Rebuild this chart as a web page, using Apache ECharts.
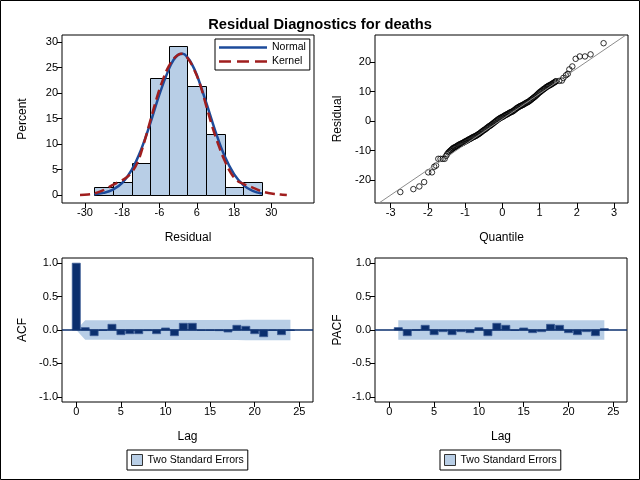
<!DOCTYPE html>
<html><head><meta charset="utf-8">
<script src="https://cdn.jsdelivr.net/npm/echarts@6/dist/echarts.min.js"></script>
<style>html,body{margin:0;padding:0;background:#fff}#c{width:640px;height:480px}</style>
</head><body><div id="c"></div><script>
// ---------- Histogram ----------
const histBinStart = [-27, -21, -15, -9, -3, 3, 9, 15, 21];
const histBinEnd   = [-21, -15, -9, -3, 3, 9, 15, 21, 27];
const histPercent  = [1.6, 2.5, 6.2, 22.9, 29.3, 21.4, 11.9, 1.6, 2.5];
const histXTicks = [-30, -18, -6, 6, 18, 30];
const histYTicks = [0, 5, 10, 15, 20, 25, 30];
const normalX = [-27, -24, -21, -18, -15, -12, -9, -6, -3, -1.5, 0, 1.5, 3, 4.5, 6, 9, 12, 15, 18, 21, 24, 27];
const normalY = [0.14, 0.41, 1.05, 2.4, 4.9, 8.8, 14.0, 19.8, 24.7, 26.5, 27.5, 27.7, 27.0, 25.6, 23.6, 18.2, 12.5, 7.6, 4.1, 1.95, 0.83, 0.31];
const kernelX = [-31.6, -29, -27, -25, -23, -21, -19, -17, -15, -13, -11, -9, -7, -5, -3, -1, 1, 3, 5, 7, 9, 11, 13, 15, 17, 19, 21, 23, 25, 27, 29, 31, 33, 35];
const kernelY = [0.0, 0.1, 0.3, 0.7, 1.3, 2.0, 2.6, 3.3, 4.4, 6.5, 10.2, 14.5, 18.8, 22.5, 25.3, 27.0, 27.7, 26.9, 24.8, 21.8, 17.6, 13.4, 9.8, 6.7, 4.3, 2.8, 2.2, 1.7, 1.2, 0.7, 0.4, 0.2, 0.1, 0.0];

// ---------- Q-Q plot ----------
const qqQuantile = [-2.74, -2.39, -2.23, -2.10, -1.99, -1.89, -1.83, -1.78, -1.72, -1.66, -1.60, -1.55, -1.51, -1.48,
  -1.450, -1.425, -1.400, -1.375, -1.350, -1.325, -1.300, -1.275, -1.250, -1.225, -1.200, -1.175, -1.150, -1.125, -1.100, -1.075,
  -1.050, -1.025, -1.000, -0.975, -0.950, -0.925, -0.900, -0.875, -0.850, -0.825, -0.800, -0.775, -0.750, -0.725, -0.700, -0.675,
  -0.650, -0.625, -0.600, -0.575, -0.550, -0.525, -0.500, -0.475, -0.450, -0.425, -0.400, -0.375, -0.350, -0.325, -0.300, -0.275,
  -0.250, -0.225, -0.200, -0.175, -0.150, -0.125, -0.100, -0.075, -0.050, -0.025, 0.000, 0.025, 0.050, 0.075, 0.100, 0.125,
  0.150, 0.175, 0.200, 0.225, 0.250, 0.275, 0.300, 0.325, 0.350, 0.375, 0.400, 0.425, 0.450, 0.475, 0.500, 0.525,
  0.550, 0.575, 0.600, 0.625, 0.650, 0.675, 0.700, 0.725, 0.750, 0.775, 0.800, 0.825, 0.850, 0.875, 0.900, 0.925,
  0.950, 0.975, 1.000, 1.025, 1.050, 1.075, 1.100, 1.125, 1.150, 1.175, 1.200, 1.225, 1.250, 1.275, 1.300, 1.325,
  1.350, 1.375, 1.400, 1.425,
  1.44, 1.53, 1.60, 1.64, 1.71, 1.76, 1.80, 1.88, 1.97, 2.08, 2.22, 2.37, 2.72];
const qqResidual = [-24.1, -23.1, -22.2, -20.7, -17.4, -17.4, -15.5, -15.1, -12.8, -12.8, -12.8, -12.8, -11.8, -11.2,
  -10.7, -10.4, -10.1, -9.8, -9.5, -9.2, -9.0, -8.9, -8.7, -8.5, -8.3, -8.1, -7.9, -7.8, -7.6, -7.5,
  -7.3, -7.1, -6.9, -6.8, -6.6, -6.4, -6.2, -6.1, -5.9, -5.7, -5.5, -5.4, -5.2, -5.1, -4.9, -4.7,
  -4.5, -4.3, -4.1, -3.8, -3.6, -3.3, -3.1, -2.9, -2.7, -2.4, -2.2, -1.9, -1.7, -1.5, -1.3, -1.0,
  -0.8, -0.5, -0.3, 0.0, 0.2, 0.5, 0.7, 0.9, 1.1, 1.3, 1.4, 1.6, 1.8, 2.0, 2.2, 2.3,
  2.5, 2.7, 2.9, 3.0, 3.2, 3.3, 3.5, 3.8, 4.0, 4.3, 4.5, 4.7, 4.9, 5.1, 5.2, 5.4,
  5.5, 5.7, 5.9, 6.1, 6.3, 6.4, 6.6, 6.8, 7.1, 7.3, 7.6, 7.8, 8.1, 8.3, 8.6, 8.9,
  9.2, 9.5, 9.8, 10.0, 10.3, 10.5, 10.8, 11.0, 11.2, 11.5, 11.7, 11.9, 12.1, 12.2, 12.4, 12.6,
  12.8, 13.0, 13.2, 13.4,
  13.6, 13.7, 13.8, 14.7, 15.6, 16.1, 17.6, 18.6, 21.2, 22.0, 22.0, 22.7, 26.5];
const qqRefQuantile = [-3.6, 3.6];
const qqRefResidual = [-30.3, 31.7];
const qqXTicks = [-3, -2, -1, 0, 1, 2, 3];
const qqYTicks = [-20, -10, 0, 10, 20];

// ---------- ACF / PACF ----------
const acfLag   = [0, 1, 2, 3, 4, 5, 6, 7, 8, 9, 10, 11, 12, 13, 14, 15, 16, 17, 18, 19, 20, 21, 22, 23, 24];
const acfValue = [1.0, 0.035, -0.085, -0.005, 0.085, -0.07, -0.055, -0.055, -0.01, -0.055, 0.03, -0.085, 0.10, 0.10, 0.0, -0.003, -0.01, -0.03, 0.07, 0.055, -0.055, -0.10, -0.003, -0.07, -0.005];
const acfBandLag   = [0, 1, 2, 3, 4, 5, 6, 7, 8, 9, 10, 11, 12, 13, 14, 15, 16, 17, 18, 19, 20, 21, 22, 23, 24];
const acfBandUpper = [0, 0.146, 0.146, 0.147, 0.147, 0.148, 0.148, 0.149, 0.149, 0.149, 0.149, 0.150, 0.150, 0.151, 0.151, 0.151, 0.151, 0.151, 0.151, 0.152, 0.152, 0.153, 0.153, 0.153, 0.153];
const acfBandLower = [0, -0.146, -0.146, -0.147, -0.147, -0.148, -0.148, -0.149, -0.149, -0.149, -0.149, -0.150, -0.150, -0.151, -0.151, -0.151, -0.151, -0.151, -0.151, -0.152, -0.152, -0.153, -0.153, -0.153, -0.153];
const pacfLag   = [1, 2, 3, 4, 5, 6, 7, 8, 9, 10, 11, 12, 13, 14, 15, 16, 17, 18, 19, 20, 21, 22, 23, 24];
const pacfValue = [0.035, -0.085, 0.004, 0.07, -0.07, -0.025, -0.07, -0.025, -0.04, 0.035, -0.085, 0.10, 0.07, -0.004, 0.03, -0.04, -0.025, 0.085, 0.07, -0.04, -0.07, -0.025, -0.085, 0.02];
const pacfBandLag   = [1, 24];
const pacfBandUpper = [0.147, 0.147];
const pacfBandLower = [-0.147, -0.147];
const lagTicks = [0, 5, 10, 15, 20, 25];
const corrTicks = [-1, -0.5, 0, 0.5, 1];
const bandLabel = 'Two Standard Errors';

const FONT = '"Liberation Sans", Arial, Helvetica, sans-serif';
const BAND = '#B8CEE6';
const NAVY = '#0b2f6e';
const BLUE = '#1d4b9b';
const RED = '#a01e1e';
const TICKFS = 11;
const SOLID_ICON = 'path://M0,0h48v2.5h-48z';
const DASH_ICON = 'path://M0,0h12v2.5h-12zM18,0h12v2.5h-12zM36,0h12v2.5h-12z';

function axis(gridIndex, min, max, ticks, name, nameGap, fmt) {
  return {
    gridIndex, type: 'value', min, max, name, nameLocation: 'middle', nameGap,
    nameTextStyle: { fontSize: 12, color: '#000', fontFamily: FONT },
    axisLine: { show: false, onZero: false },
    axisTick: { show: true, inside: false, length: 5, lineStyle: { color: '#000', width: 1 }, customValues: ticks },
    axisLabel: { show: true, customValues: ticks, fontSize: TICKFS, color: '#000', fontFamily: FONT, margin: 4,
      formatter: fmt || (v => String(v)) },
    splitLine: { show: false }
  };
}

const chart = echarts.init(document.getElementById('c'), null, { renderer: 'canvas' });

function bandSeries(name, xi, lags, up, lo) {
  return {
    type: 'custom', name, xAxisIndex: xi, yAxisIndex: xi, data: [[lags[0], 0]], clip: true, silent: true,
    itemStyle: { color: BAND },
    renderItem: (params, api) => {
      const pts = [];
      for (let i = 0; i < lags.length; i++) pts.push(api.coord([lags[i], up[i]]));
      for (let i = lags.length - 1; i >= 0; i--) pts.push(api.coord([lags[i], lo[i]]));
      return { type: 'polygon', shape: { points: pts }, style: { fill: BAND, stroke: null } };
    }
  };
}
function barSeries(xi, lags, vals) {
  return {
    type: 'custom', name: 'corr' + xi, xAxisIndex: xi, yAxisIndex: xi, clip: true, silent: true,
    data: lags.map((l, i) => [l, vals[i]]),
    renderItem: (params, api) => {
      const l = api.value(0), v = api.value(1);
      const a = api.coord([l - 0.45, Math.max(v, 0)]);
      const b = api.coord([l + 0.45, Math.min(v, 0)]);
      return { type: 'rect', shape: { x: a[0], y: a[1], width: b[0] - a[0], height: Math.max(b[1] - a[1], 0.5) },
        style: { fill: NAVY, stroke: '#3a5a94', lineWidth: 0.8 } };
    }
  };
}
function zeroSeries(xi, xmin, xmax) {
  return { type: 'line', name: 'zero' + xi, xAxisIndex: xi, yAxisIndex: xi, symbol: 'none', silent: true,
    data: [[xmin, 0], [xmax, 0]], lineStyle: { color: NAVY, width: 1.5 }, z: 3 };
}
function bandLegend(seriesName, left) {
  return {
    data: [{ name: seriesName, icon: 'rect', itemStyle: { color: BAND, borderColor: '#333', borderWidth: 1 } }],
    formatter: () => bandLabel,
    left, top: 450, padding: [4, 4, 4, 4], itemWidth: 11, itemHeight: 11, borderColor: '#000', borderWidth: 1,
    selectedMode: false, textStyle: { fontSize: 10.5, color: '#000', fontFamily: FONT }
  };
}

const lagMin = -1.6, lagMax = 26.53;

const option = {
  animation: false,
  backgroundColor: '#fff',
  title: { text: 'Residual Diagnostics for deaths', left: 'center', top: 12,
    textStyle: { fontSize: 14.7, fontWeight: 'bold', color: '#000', fontFamily: FONT } },
  grid: [
    { left: 62, top: 35, width: 252, height: 168, show: true, borderColor: '#000', borderWidth: 1, backgroundColor: 'transparent' },
    { left: 375, top: 35, width: 253, height: 168, show: true, borderColor: '#000', borderWidth: 1, backgroundColor: 'transparent' },
    { left: 62, top: 258, width: 251, height: 144, show: true, borderColor: '#000', borderWidth: 1, backgroundColor: 'transparent' },
    { left: 375, top: 258, width: 252, height: 144, show: true, borderColor: '#000', borderWidth: 1, backgroundColor: 'transparent' }
  ],
  xAxis: [
    axis(0, -37.4, 43.75, histXTicks, 'Residual', 29),
    axis(1, -3.42, 3.376, qqXTicks, 'Quantile', 29),
    axis(2, lagMin, lagMax, lagTicks, 'Lag', 29),
    axis(3, lagMin, lagMax, lagTicks, 'Lag', 29)
  ],
  yAxis: [
    axis(0, -1.57, 31.4, histYTicks, 'Percent', 33),
    axis(1, -27.82, 29.29, qqYTicks, 'Residual', 31),
    axis(2, -1.078, 1.078, corrTicks, 'ACF', 33, v => v.toFixed(1)),
    axis(3, -1.078, 1.078, corrTicks, 'PACF', 31, v => v.toFixed(1))
  ],
  legend: [
    { data: [
        { name: 'Normal', icon: SOLID_ICON, itemStyle: { color: BLUE } },
        { name: 'Kernel', icon: DASH_ICON, itemStyle: { color: RED } }
      ],
      orient: 'vertical', left: 215, top: 39, padding: [3, 4, 3, 4], itemGap: 3,
      itemWidth: 48, itemHeight: 12, borderColor: '#000', borderWidth: 1, backgroundColor: '#fff', selectedMode: false,
      textStyle: { fontSize: 10.5, color: '#000', fontFamily: FONT } },
    bandLegend('SE_ACF', 127),
    bandLegend('SE_PACF', 440)
  ],
  graphic: [
    { type: 'rect', shape: { x: 0.5, y: 0.5, width: 639, height: 479 }, style: { fill: null, stroke: '#000', lineWidth: 1 }, z: 100, silent: true }
  ],
  series: [
    {
      type: 'custom', name: 'hist', xAxisIndex: 0, yAxisIndex: 0, silent: true,
      data: histBinStart.map((s, i) => [s, histBinEnd[i], histPercent[i]]),
      encode: { x: [0, 1], y: 2 },
      renderItem: (params, api) => {
        const a = api.coord([api.value(0), api.value(2)]);
        const b = api.coord([api.value(1), 0]);
        const x0 = Math.round(a[0]) + 0.5, x1 = Math.round(b[0]) + 0.5;
        const y0 = Math.round(a[1]) + 0.5, y1 = Math.round(b[1]) + 0.5;
        return { type: 'rect', shape: { x: x0, y: y0, width: x1 - x0, height: y1 - y0 },
          style: { fill: BAND, stroke: '#000', lineWidth: 1 } };
      }
    },
    { type: 'line', name: 'Normal', xAxisIndex: 0, yAxisIndex: 0, symbol: 'none', smooth: 0.4, silent: true,
      data: normalX.map((x, i) => [x, normalY[i]]), lineStyle: { color: BLUE, width: 2.5 }, itemStyle: { color: BLUE } },
    { type: 'line', name: 'Kernel', xAxisIndex: 0, yAxisIndex: 0, symbol: 'none', smooth: 0.4, silent: true,
      data: kernelX.map((x, i) => [x, kernelY[i]]), lineStyle: { color: RED, width: 2.5, type: [10, 5] }, itemStyle: { color: RED } },

    { type: 'line', name: 'ref', xAxisIndex: 1, yAxisIndex: 1, symbol: 'none', silent: true, clip: true,
      data: qqRefQuantile.map((q, i) => [q, qqRefResidual[i]]), lineStyle: { color: '#8c8c8c', width: 1 } },
    { type: 'scatter', name: 'qq', xAxisIndex: 1, yAxisIndex: 1, symbol: 'circle', symbolSize: 5.5, silent: true,
      data: qqQuantile.map((q, i) => [q, qqResidual[i]]),
      itemStyle: { color: 'rgba(0,0,0,0)', borderColor: '#000', borderWidth: 1 } },

    bandSeries('SE_ACF', 2, acfBandLag, acfBandUpper, acfBandLower),
    barSeries(2, acfLag, acfValue),
    zeroSeries(2, lagMin, lagMax),

    bandSeries('SE_PACF', 3, pacfBandLag, pacfBandUpper, pacfBandLower),
    barSeries(3, pacfLag, pacfValue),
    zeroSeries(3, lagMin, lagMax)
  ]
};
chart.setOption(option);
</script></body></html>
